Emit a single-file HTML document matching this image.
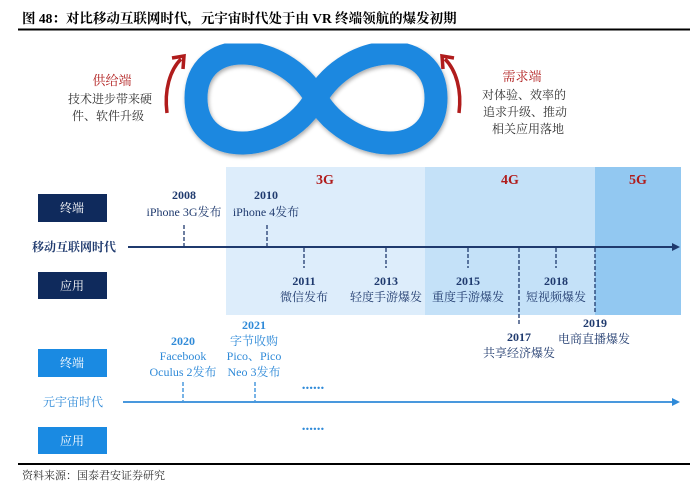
<!DOCTYPE html>
<html><head><meta charset="utf-8"><style>
body{margin:0;background:#fff;}
svg{display:block;font-family:"Liberation Serif","Noto Serif CJK SC","Noto Sans CJK SC",serif;}
</style></head><body>
<svg width="700" height="488" viewBox="0 0 700 488" xmlns="http://www.w3.org/2000/svg">
<defs>
<filter id="sh" x="-10%" y="-10%" width="120%" height="130%"><feGaussianBlur in="SourceAlpha" stdDeviation="2"/><feOffset dx="1" dy="2"/><feComponentTransfer><feFuncA type="linear" slope="0.35"/></feComponentTransfer><feMerge><feMergeNode/><feMergeNode in="SourceGraphic"/></feMerge></filter>
<marker id="ar1" markerWidth="8" markerHeight="8" refX="6" refY="4" orient="auto" markerUnits="userSpaceOnUse"><path d="M0,0 L8,4 L0,8 Z" fill="#1f3a6e"/></marker>
<marker id="ar2" markerWidth="8" markerHeight="8" refX="6" refY="4" orient="auto" markerUnits="userSpaceOnUse"><path d="M0,0 L8,4 L0,8 Z" fill="#2f8ad8"/></marker>
</defs>
<text x="22" y="23" font-size="13.5" font-weight="bold" fill="#000">图 48：对比移动互联网时代，元宇宙时代处于由 VR 终端领航的爆发初期</text>
<rect x="18" y="28.5" width="672" height="2" fill="#000"/>

<!-- infinity -->
<path d="M316,98 C350,40 436,36 436,98 C436,160 350,156 316,98 C282,40 196,36 196,98 C196,160 282,156 316,98 Z" fill="none" stroke="#1e88e0" stroke-width="23" filter="url(#sh)"/>
<!-- red arrows -->
<path d="M167,113 C164,90 170,70 181,59" fill="none" stroke="#b01c1c" stroke-width="3.5"/>
<path d="M172,58 L184,56 L183,69" fill="none" stroke="#b01c1c" stroke-width="3.5"/>
<path d="M459,113 C462,90 456,70 445,59" fill="none" stroke="#b01c1c" stroke-width="3.5"/>
<path d="M454,58 L442,56 L443,69" fill="none" stroke="#b01c1c" stroke-width="3.5"/>

<g font-size="12" fill="#333" text-anchor="middle">
<text x="112" y="85" font-size="13" fill="#b01c1c">供给端</text>
<text x="110" y="103">技术进步带来硬</text>
<text x="108" y="120">件、软件升级</text>
<text x="522" y="81" font-size="13" fill="#b01c1c">需求端</text>
<text x="524" y="99">对体验、效率的</text>
<text x="525" y="116">追求升级、推动</text>
<text x="528" y="133">相关应用落地</text>
</g>

<!-- bands -->
<rect x="226" y="167" width="199" height="148" fill="#ddedfb"/>
<rect x="425" y="167" width="170" height="148" fill="#c4e1f8"/>
<rect x="595" y="167" width="86" height="148" fill="#92c8f1"/>
<g font-size="14" font-weight="bold" fill="#b01c1c" text-anchor="middle">
<text x="325" y="184">3G</text><text x="510" y="184">4G</text><text x="638" y="184">5G</text>
</g>

<!-- boxes -->
<rect x="38" y="194" width="69" height="28" fill="#0f2a5c"/>
<rect x="38" y="272" width="69" height="27" fill="#0f2a5c"/>
<rect x="38" y="349" width="69" height="28" fill="#1a8ae2"/>
<rect x="38" y="427" width="69" height="27" fill="#1a8ae2"/>
<g font-size="12" fill="#fff" text-anchor="middle">
<text x="72" y="212">终端</text><text x="72" y="290">应用</text>
<text x="72" y="367">终端</text><text x="72" y="445">应用</text>
</g>

<!-- axis 1 -->
<text x="74" y="251" font-size="12" font-weight="bold" fill="#1f3a6e" text-anchor="middle">移动互联网时代</text>
<line x1="128" y1="247" x2="678" y2="247" stroke="#1f3a6e" stroke-width="2" marker-end="url(#ar1)"/>
<g stroke="#1f3a6e" stroke-width="1.3" stroke-dasharray="4,2">
<line x1="184" y1="225" x2="184" y2="246"/>
<line x1="267" y1="225" x2="267" y2="246"/>
<line x1="304" y1="248" x2="304" y2="268"/>
<line x1="386" y1="248" x2="386" y2="268"/>
<line x1="468" y1="248" x2="468" y2="268"/>
<line x1="556" y1="248" x2="556" y2="268"/>
<line x1="519" y1="248" x2="519" y2="324"/>
<line x1="595" y1="248" x2="595" y2="313"/>
</g>
<g font-size="12" fill="#1f3a6e" text-anchor="middle">
<text x="184" y="199" font-weight="bold">2008</text><text x="184" y="216">iPhone 3G发布</text>
<text x="266" y="199" font-weight="bold">2010</text><text x="266" y="216">iPhone 4发布</text>
<text x="304" y="285" font-weight="bold">2011</text><text x="304" y="301">微信发布</text>
<text x="386" y="285" font-weight="bold">2013</text><text x="386" y="301">轻度手游爆发</text>
<text x="468" y="285" font-weight="bold">2015</text><text x="468" y="301">重度手游爆发</text>
<text x="556" y="285" font-weight="bold">2018</text><text x="556" y="301">短视频爆发</text>
<text x="595" y="327" font-weight="bold">2019</text><text x="594" y="343">电商直播爆发</text>
<text x="519" y="341" font-weight="bold">2017</text><text x="519" y="357">共享经济爆发</text>
</g>

<!-- axis 2 -->
<text x="73" y="406" font-size="12" fill="#2f8ad8" text-anchor="middle">元宇宙时代</text>
<line x1="123" y1="402" x2="678" y2="402" stroke="#2f8ad8" stroke-width="1.8" marker-end="url(#ar2)"/>
<g stroke="#2f8ad8" stroke-width="1.3" stroke-dasharray="4,2">
<line x1="183" y1="382" x2="183" y2="401"/>
<line x1="255" y1="382" x2="255" y2="401"/>
</g>
<g font-size="12" fill="#2f8ad8" text-anchor="middle">
<text x="183" y="345" font-weight="bold">2020</text><text x="183" y="360">Facebook</text><text x="183" y="376">Oculus 2发布</text>
<text x="254" y="329" font-weight="bold">2021</text><text x="254" y="345">字节收购</text><text x="254" y="360">Pico、Pico</text><text x="254" y="376">Neo 3发布</text>
<text x="313" y="389" font-size="15" font-weight="bold">......</text>
<text x="313" y="430" font-size="15" font-weight="bold">......</text>
</g>

<rect x="18" y="463" width="672" height="2" fill="#000"/>
<text x="22" y="479" font-size="11" fill="#333">资料来源：国泰君安证券研究</text>
</svg>
</body></html>
